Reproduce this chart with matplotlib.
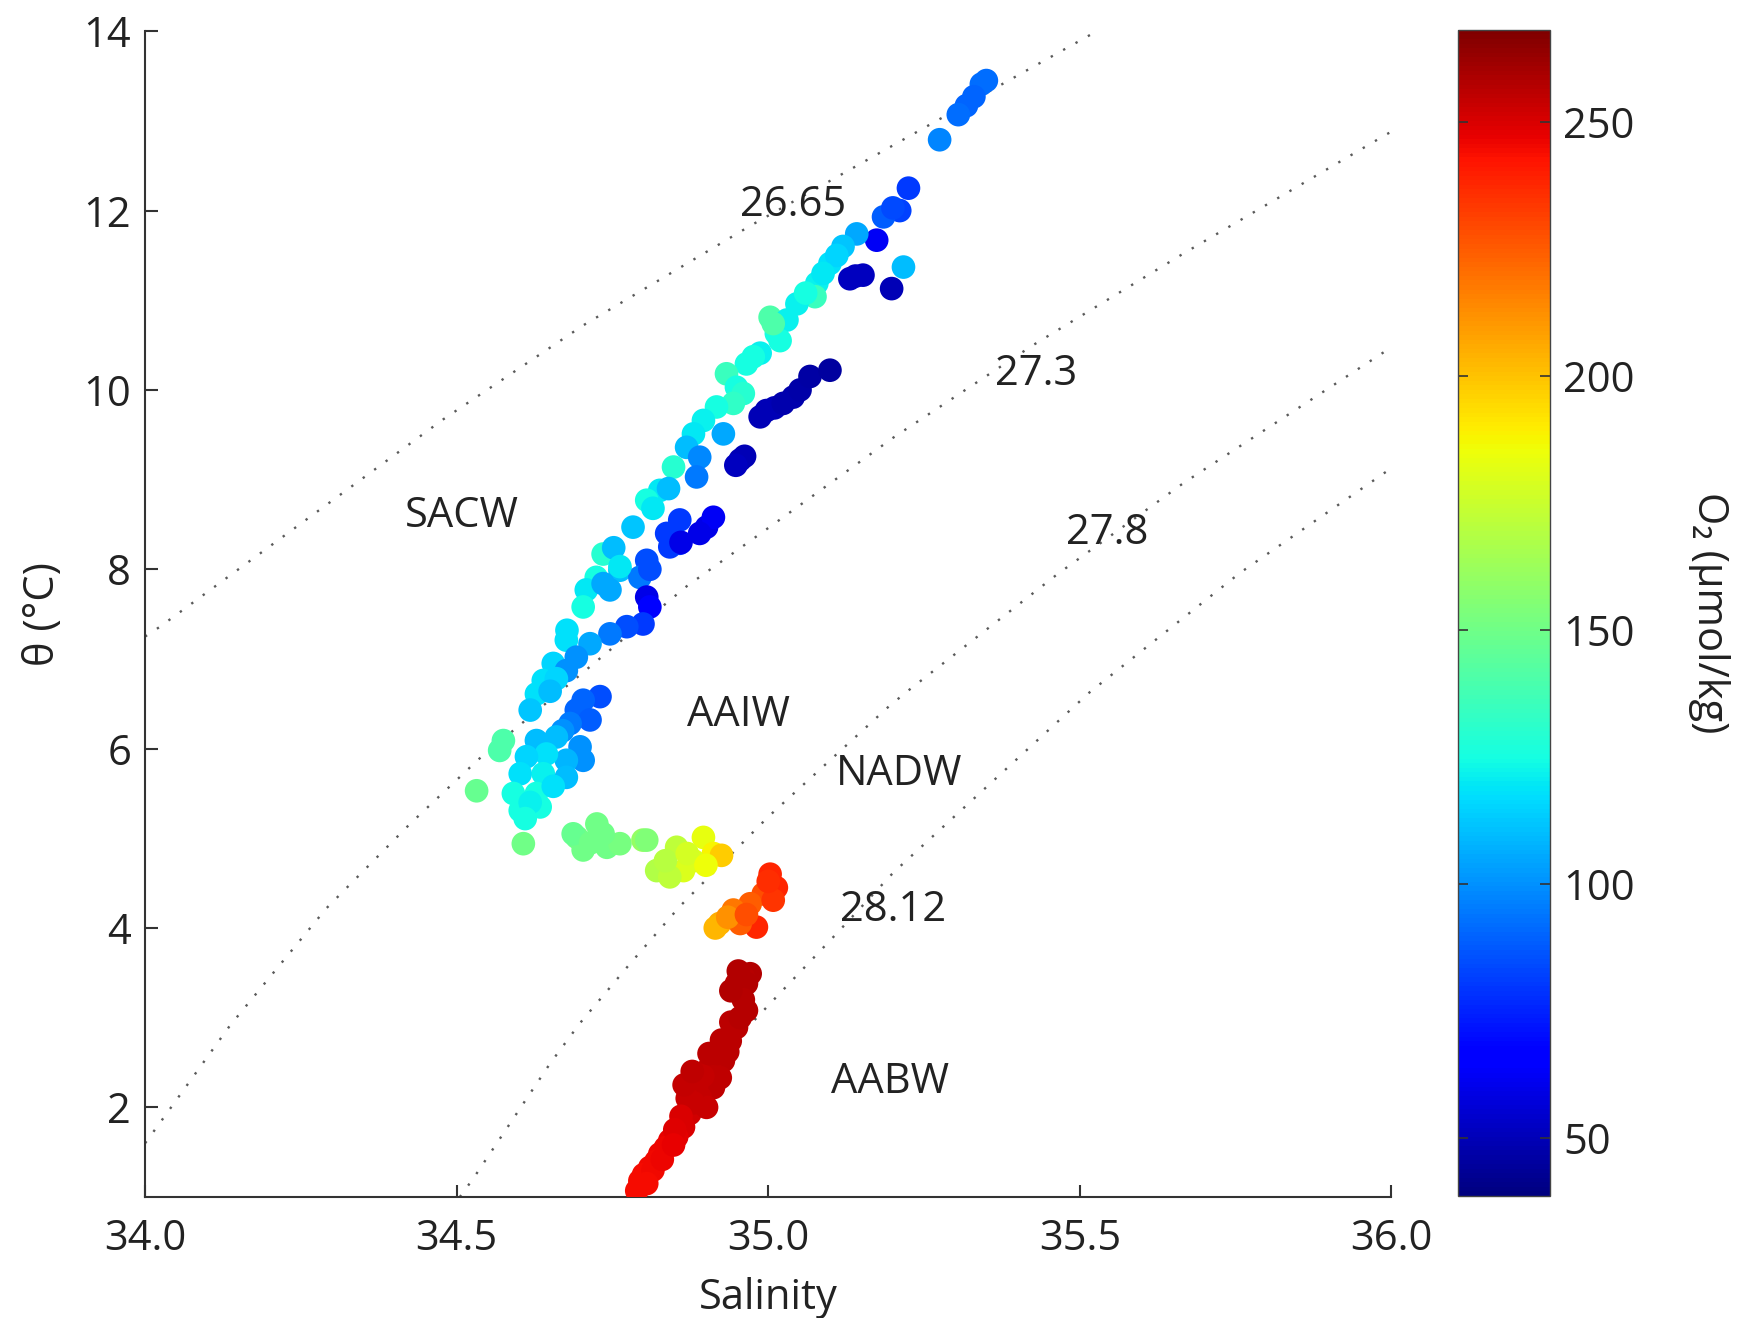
import numpy as np
import matplotlib
matplotlib.use("Agg")
import matplotlib.pyplot as plt
from matplotlib.colors import Normalize

plt.rcParams['font.family'] = ['Open Sans', 'DejaVu Sans']

# ---------------- data ----------------
# Upper SACW (theta > ~10.3)
up_S = [35.350, 35.342, 35.330, 35.318, 35.305, 35.275,
        35.225, 35.211, 35.185, 35.200, 35.174, 35.142, 35.120, 35.099, 35.110, 35.078, 35.088,
        35.075, 35.046, 35.060, 35.003, 35.013, 35.030, 35.019, 34.987, 34.976, 35.217, 35.198,
        35.152, 35.131, 35.140, 35.008]
up_T = [13.45, 13.41, 13.27, 13.17, 13.07, 12.79,
        12.25, 12.00, 11.93, 12.03, 11.67, 11.74, 11.60, 11.41, 11.50, 11.19, 11.30,
        11.04, 10.96, 11.08, 10.81, 10.63, 10.78, 10.55, 10.41, 10.37, 11.37, 11.13,
        11.28, 11.24, 11.27, 10.74]
up_O2 = [92, 92, 90, 90, 92, 97,
         80, 82, 88, 84, 62, 105, 112, 118, 115, 122, 120,
         135, 122, 125, 140, 125, 122, 125, 122, 125, 110, 50,
         52, 52, 52, 140]

# Lower SACW (theta ~8.2 - 10.3)
lo_S = [34.965, 34.933, 34.949, 34.960, 34.944, 34.917, 34.896, 34.880, 34.928, 34.869, 34.890,
        34.848, 34.885, 34.826, 34.840, 34.805, 34.815, 34.783, 34.858, 34.837, 34.858, 34.901,
        34.912, 34.890, 34.955, 34.962, 34.948]
lo_T = [10.29, 10.18, 10.03, 9.96, 9.85, 9.81, 9.66, 9.51, 9.51, 9.36, 9.25,
        9.14, 9.03, 8.88, 8.90, 8.77, 8.68, 8.47, 8.55, 8.40, 8.29, 8.47,
        8.58, 8.40, 9.22, 9.26, 9.16]
lo_O2 = [125, 135, 125, 130, 132, 125, 122, 120, 105, 110, 98,
         130, 95, 120, 110, 125, 120, 112, 80, 80, 78, 60,
         62, 60, 50, 50, 52]

# Oxygen-minimum chain
omz_S = [34.987, 34.997, 35.010, 35.024, 35.040, 35.051, 35.067, 35.099]
omz_T = [9.70, 9.77, 9.80, 9.85, 9.92, 10.00, 10.15, 10.22]
omz_O2 = [50, 50, 50, 48, 48, 47, 46, 45]

# Upper AAIW (theta ~6.2 - 8.3)
ai_S = [34.735, 34.752, 34.805, 34.842, 34.860, 34.762, 34.794, 34.810, 34.724, 34.708, 34.703,
        34.746, 34.805, 34.810, 34.799, 34.773, 34.746, 34.714, 34.676, 34.692, 34.655, 34.676,
        34.639, 34.628, 34.618, 34.660, 34.650, 34.730, 34.703, 34.692, 34.714, 34.682, 34.670,
        34.762, 34.735, 34.677]
ai_T = [8.17, 8.24, 8.10, 8.25, 8.30, 7.99, 7.91, 8.00, 7.91, 7.77, 7.58,
        7.77, 7.69, 7.58, 7.39, 7.36, 7.28, 7.17, 7.21, 7.02, 6.95, 6.87,
        6.76, 6.61, 6.43, 6.78, 6.64, 6.58, 6.54, 6.43, 6.32, 6.28, 6.20,
        8.03, 7.84, 7.32]
ai_O2 = [130, 110, 85, 80, 60, 110, 95, 85, 125, 120, 125,
         105, 60, 65, 80, 85, 95, 105, 118, 100, 115, 100,
         118, 118, 112, 115, 110, 85, 90, 90, 88, 95, 100,
         120, 105, 118]

# Lower AAIW (theta ~5.2 - 6.1)
al_S = [34.575, 34.569, 34.628, 34.660, 34.698, 34.703, 34.676, 34.644, 34.612, 34.602, 34.639,
        34.676, 34.591, 34.628, 34.655, 34.602, 34.634, 34.618, 34.532, 34.610]
al_T = [6.09, 5.98, 6.09, 6.13, 6.02, 5.87, 5.87, 5.94, 5.91, 5.72, 5.72,
        5.68, 5.50, 5.50, 5.58, 5.31, 5.35, 5.40, 5.53, 5.22]
al_O2 = [140, 140, 110, 110, 100, 100, 108, 118, 115, 118, 122,
         110, 125, 125, 118, 125, 125, 122, 148, 125]

# Transition band (green / yellow)
tb_S = [34.607, 34.693, 34.725, 34.741, 34.762, 34.703, 34.687, 34.735, 34.715, 34.799, 34.805,
        34.821, 34.853, 34.864, 34.896, 34.912, 34.925, 34.842, 34.880, 34.835, 34.870, 34.900]
tb_T = [4.94, 5.01, 5.16, 4.90, 4.94, 4.87, 5.05, 5.05, 4.95, 4.98, 4.98,
        4.64, 4.90, 4.64, 5.01, 4.83, 4.81, 4.57, 4.75, 4.75, 4.83, 4.70]
tb_O2 = [150, 150, 150, 150, 152, 150, 148, 150, 150, 160, 155,
         168, 172, 180, 183, 188, 198, 172, 180, 170, 178, 185]

# NADW
nd_S = [35.003, 35.013, 34.992, 34.971, 35.008, 34.944, 34.922, 34.915, 34.981, 34.955, 35.000,
        34.935, 34.965]
nd_T = [4.60, 4.45, 4.38, 4.27, 4.31, 4.20, 4.05, 4.00, 4.01, 4.05, 4.52,
        4.12, 4.15]
nd_O2 = [238, 238, 228, 225, 235, 218, 205, 203, 238, 225, 236,
         212, 228]

# AABW
ab_S = [34.971, 34.960, 34.949, 34.965, 34.965, 34.960, 34.949, 34.939, 34.928, 34.906, 34.912,
        34.891, 34.874, 34.864, 34.901, 34.923, 34.885, 34.935, 34.918, 34.940, 34.895, 34.880,
        34.870, 34.860, 34.925, 34.955, 34.865, 34.878, 34.905, 34.940, 34.952,
        34.842, 34.853, 34.826, 34.835, 34.810, 34.820, 34.794, 34.800, 34.789, 34.850,
        34.815, 34.830, 34.805, 34.848]
ab_T = [3.49, 3.45, 3.38, 3.38, 3.08, 3.20, 2.89, 2.74, 2.52, 2.45, 2.22,
        2.11, 1.93, 1.78, 2.00, 2.33, 2.22, 2.62, 2.60, 2.95, 2.35, 2.05,
        2.10, 1.90, 2.75, 3.00, 2.25, 2.40, 2.60, 3.30, 3.52,
        1.63, 1.67, 1.48, 1.55, 1.33, 1.40, 1.18, 1.25, 1.07, 1.75,
        1.30, 1.42, 1.15, 1.58]
ab_O2 = [258, 257, 256, 258, 257, 257, 256, 256, 256, 255, 255,
         254, 252, 250, 253, 255, 254, 256, 256, 256, 254, 253,
         253, 250, 256, 257, 254, 255, 256, 258, 258,
         247, 248, 246, 246, 245, 245, 244, 244, 244, 249,
         245, 246, 244, 247]

# Isopycnals (salinity, theta)
iso_labels = ['26.65', '27.3', '27.8', '28.12']
iso1_S = [34.0, 34.024, 34.478, 34.703, 34.971, 35.275, 35.54]
iso1_T = [7.25, 7.36, 9.67, 10.72, 11.83, 13.02, 14.05]
iso2_S = [34.0, 34.021, 34.136, 34.291, 34.425, 34.535, 34.869, 35.008, 35.201, 35.425, 35.666, 35.992, 36.0]
iso2_T = [1.60, 1.80, 2.91, 4.22, 5.16, 5.88, 7.81, 8.50, 9.47, 10.50, 11.52, 12.85, 12.88]
iso3_S = [34.505, 34.527, 34.650, 34.698, 34.778, 34.858, 35.0, 35.195, 35.227, 35.463, 35.666, 35.992, 36.0]
iso3_T = [1.00, 1.21, 2.49, 2.94, 3.60, 4.24, 5.24, 6.48, 6.66, 7.94, 8.96, 10.44, 10.48]
iso4_S = [34.90, 34.987, 35.11, 35.201, 35.516, 35.757, 35.992, 36.0]
iso4_T = [2.40, 3.04, 3.94, 4.62, 6.63, 7.96, 9.09, 9.13]
iso_label_S = [35.04, 35.43, 35.544, 35.20]
iso_label_T = [12.06, 10.18, 8.40, 4.20]

water_masses = ['SACW', 'AAIW', 'NADW', 'AABW']
wm_S = [34.508, 34.952, 35.21, 35.196]
wm_T = [8.59, 6.38, 5.72, 2.28]

x_ticks = [34.0, 34.5, 35.0, 35.5, 36.0]
y_ticks = [2, 4, 6, 8, 10, 12, 14]
cb_ticks = [50, 100, 150, 200, 250]
o2_min, o2_max = 38.6, 268.2

# ---------------- figure ----------------
fig = plt.figure(figsize=(17.48, 13.18), dpi=100)
ax = fig.add_axes([0.0830, 0.0918, 0.7130, 0.8845])
cax = fig.add_axes([0.8341, 0.0926, 0.0524, 0.8847])

txt_col = '#222222'
axis_col = '#333333'
fs = 30

iso_S = [iso1_S, iso2_S, iso3_S, iso4_S]
iso_T = [iso1_T, iso2_T, iso3_T, iso4_T]
for s, t in zip(iso_S, iso_T):
    ax.plot(s, t, linestyle=(0, (1, 5)), color='#5a5a5a', lw=1.7, zorder=1)

cmap = plt.get_cmap('jet')
norm = Normalize(vmin=o2_min, vmax=o2_max)

S_all = np.concatenate([up_S, lo_S, omz_S, ai_S, al_S, tb_S, nd_S, ab_S])
T_all = np.concatenate([up_T, lo_T, omz_T, ai_T, al_T, tb_T, nd_T, ab_T])
O_all = np.concatenate([up_O2, lo_O2, omz_O2, ai_O2, al_O2, tb_O2, nd_O2, ab_O2])
sc = ax.scatter(S_all, T_all, c=O_all, cmap=cmap, norm=norm, s=290,
                edgecolors='none', zorder=3)

for lab, s, t in zip(iso_labels, iso_label_S, iso_label_T):
    ax.text(s, t, lab, fontsize=fs, color=txt_col, ha='center', va='center', zorder=4)
for lab, s, t in zip(water_masses, wm_S, wm_T):
    ax.text(s, t, lab, fontsize=fs, color=txt_col, ha='center', va='center', zorder=4)

ax.set_xlim(34.0, 36.0)
ax.set_ylim(1.0, 14.0)
ax.set_xticks(x_ticks)
ax.set_xticklabels([f'{v:.1f}' for v in x_ticks])
ax.set_yticks(y_ticks)
ax.set_yticklabels([str(v) for v in y_ticks])
for sp in ['top', 'right']:
    ax.spines[sp].set_visible(False)
for sp in ['left', 'bottom']:
    ax.spines[sp].set_color(axis_col)
    ax.spines[sp].set_linewidth(1.5)
ax.tick_params(axis='both', direction='in', length=9, width=1.5, colors=axis_col,
               labelsize=fs, labelcolor=txt_col)
ax.tick_params(axis='x', pad=15)
ax.tick_params(axis='y', pad=10)
ax.set_xlabel('Salinity', fontsize=fs, color=txt_col, labelpad=12)
ax.set_ylabel('θ (°C)', fontsize=fs, color=txt_col, labelpad=14)

cb = fig.colorbar(sc, cax=cax)
cb.set_ticks(cb_ticks)
cb.outline.set_linewidth(1.0)
cb.outline.set_edgecolor('#444444')
cax.tick_params(axis='y', direction='in', length=7, width=1.2, colors='#333333',
                labelsize=fs, labelcolor=txt_col, left=True, right=True, pad=10)
cb.set_label('O₂ (μmol/kg)', fontsize=fs, color=txt_col, rotation=-90, labelpad=68)

fig.savefig('out.png', dpi=100, facecolor='white')
